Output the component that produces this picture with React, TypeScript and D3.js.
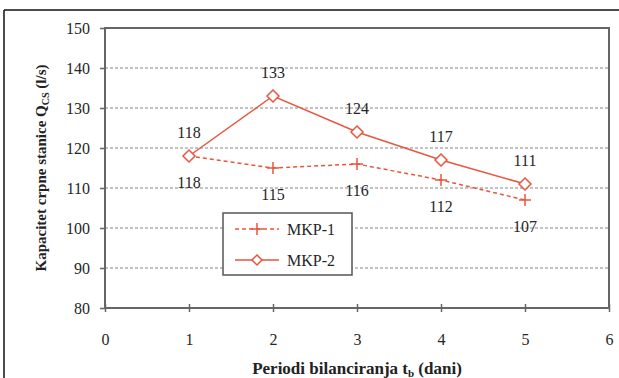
import React, { useEffect, useRef } from 'react';
import { axisBottom, axisLeft, line, scaleLinear, select } from 'd3';

const periods = [1, 2, 3, 4, 5];
const mkp1 = [118, 115, 116, 112, 107];
const mkp2 = [118, 133, 124, 117, 111];
const yTicks = [80, 90, 100, 110, 120, 130, 140, 150];
const xTicks = [0, 1, 2, 3, 4, 5, 6];
const seriesNames = ['MKP-1', 'MKP-2'];

const RED = '#e8553f';
const TXT = '#262626';
const FONT = '"Liberation Serif", "Times New Roman", serif';

export default function App() {
  const svgRef = useRef<SVGSVGElement>(null);
  const W = 619, H = 378;
  const margin = { top: 28, right: 10, bottom: 70, left: 105 };
  const width = 504, height = 280;

  useEffect(() => {
    const svg = select(svgRef.current);
    svg.selectAll('*').remove();

    const x = scaleLinear().domain([0, 6]).range([0, width]);
    const y = scaleLinear().domain([80, 150]).range([height, 0]);

    // outer frame (top + left only visible)
    svg.append('line').attr('x1', 4).attr('x2', W).attr('y1', 10).attr('y2', 10)
      .attr('stroke', '#111').attr('stroke-width', 1.5);
    svg.append('line').attr('x1', 4).attr('x2', 4).attr('y1', 10).attr('y2', H)
      .attr('stroke', '#111').attr('stroke-width', 1.5);

    const g = svg.append('g').attr('transform', `translate(${margin.left},${margin.top})`);

    // grid
    g.selectAll('.grid').data(yTicks.filter(d => d > 80 && d < 150)).join('line')
      .attr('x1', 0).attr('x2', width)
      .attr('y1', d => y(d)).attr('y2', d => y(d))
      .attr('stroke', '#888').attr('stroke-width', 1.2).attr('stroke-dasharray', '3,2');

    // axes
    const ya = g.append('g').call(axisLeft(y).tickValues(yTicks).tickSize(5).tickPadding(10));
    const xa = g.append('g').attr('transform', `translate(0,${height})`)
      .call(axisBottom(x).tickValues(xTicks).tickFormat(d => String(d)).tickSize(4).tickPadding(22));
    [ya, xa].forEach(a => {
      a.select('.domain').remove();
      a.selectAll('line').attr('stroke', '#666').attr('stroke-width', 1.5);
      a.selectAll('text').attr('font-family', FONT).attr('font-size', 16).attr('fill', TXT);
    });
    xa.selectAll('.tick line').attr('y1', -4);

    // plot border
    g.append('rect').attr('width', width).attr('height', height)
      .attr('fill', 'none').attr('stroke', '#666').attr('stroke-width', 2);

    const pts1 = periods.map((p, i) => [p, mkp1[i]] as [number, number]);
    const pts2 = periods.map((p, i) => [p, mkp2[i]] as [number, number]);
    const ln = line<[number, number]>().x(d => x(d[0])).y(d => y(d[1]));

    g.append('path').attr('d', ln(pts1)).attr('fill', 'none').attr('stroke', RED)
      .attr('stroke-width', 1.5).attr('stroke-dasharray', '4,3');
    g.append('path').attr('d', ln(pts2)).attr('fill', 'none').attr('stroke', RED)
      .attr('stroke-width', 1.5);

    const plus = 'M-6,0H6M0,-6V6';
    const diamond = 'M0,-6L6,0L0,6L-6,0Z';
    g.selectAll('.m1').data(pts1).join('path')
      .attr('d', plus).attr('transform', d => `translate(${x(d[0])},${y(d[1])})`)
      .attr('stroke', RED).attr('stroke-width', 1.5).attr('fill', 'none');
    g.selectAll('.m2').data(pts2).join('path')
      .attr('d', diamond).attr('transform', d => `translate(${x(d[0])},${y(d[1])})`)
      .attr('stroke', RED).attr('stroke-width', 1.5).attr('fill', '#fff');

    // data labels
    g.selectAll('.l1').data(pts1).join('text')
      .attr('x', d => x(d[0])).attr('y', d => y(d[1]) + 32)
      .attr('text-anchor', 'middle').attr('font-family', FONT).attr('font-size', 16).attr('fill', TXT)
      .text(d => d[1]);
    g.selectAll('.l2').data(pts2).join('text')
      .attr('x', d => x(d[0])).attr('y', d => y(d[1]) - 18)
      .attr('text-anchor', 'middle').attr('font-family', FONT).attr('font-size', 16).attr('fill', TXT)
      .text(d => d[1]);

    // legend
    const lg = svg.append('g').attr('transform', 'translate(223,213)');
    lg.append('rect').attr('width', 129).attr('height', 62)
      .attr('fill', '#fff').attr('stroke', '#555').attr('stroke-width', 1.5);
    seriesNames.forEach((name, i) => {
      const yy = 16 + i * 31;
      lg.append('line').attr('x1', 12).attr('x2', 56).attr('y1', yy).attr('y2', yy)
        .attr('stroke', RED).attr('stroke-width', 1.5)
        .attr('stroke-dasharray', i === 0 ? '4,3' : null);
      lg.append('path').attr('d', i === 0 ? plus : 'M0,-5L5,0L0,5L-5,0Z')
        .attr('transform', `translate(34,${yy})`)
        .attr('stroke', RED).attr('stroke-width', 1.5).attr('fill', i === 0 ? 'none' : '#fff');
      lg.append('text').attr('x', 64).attr('y', yy + 6)
        .attr('font-family', FONT).attr('font-size', 16).attr('fill', TXT).text(name);
    });

    // axis titles
    const xt = svg.append('text').attr('x', margin.left + width / 2).attr('y', 374)
      .attr('text-anchor', 'middle').attr('font-family', FONT).attr('font-size', 17)
      .attr('font-weight', 'bold').attr('fill', '#222');
    xt.append('tspan').text('Periodi bilanciranja t');
    xt.append('tspan').attr('font-size', 11).attr('dy', 3).text('b');
    xt.append('tspan').attr('dy', -3).text(' (dani)');

    const yt = svg.append('text').attr('transform', 'translate(46,168) rotate(-90)')
      .attr('text-anchor', 'middle').attr('font-family', FONT).attr('font-size', 15)
      .attr('font-weight', 'bold').attr('fill', '#222');
    yt.append('tspan').text('Kapacitet crpne stanice Q');
    yt.append('tspan').attr('font-size', 10).attr('dy', 3).text('CS');
    yt.append('tspan').attr('dy', -3).text(' (l/s)');
  }, []);

  return (
    <svg ref={svgRef} width={W} height={H}
      style={{ position: 'absolute', left: 0, top: 0, background: '#fff' }} />
  );
}
